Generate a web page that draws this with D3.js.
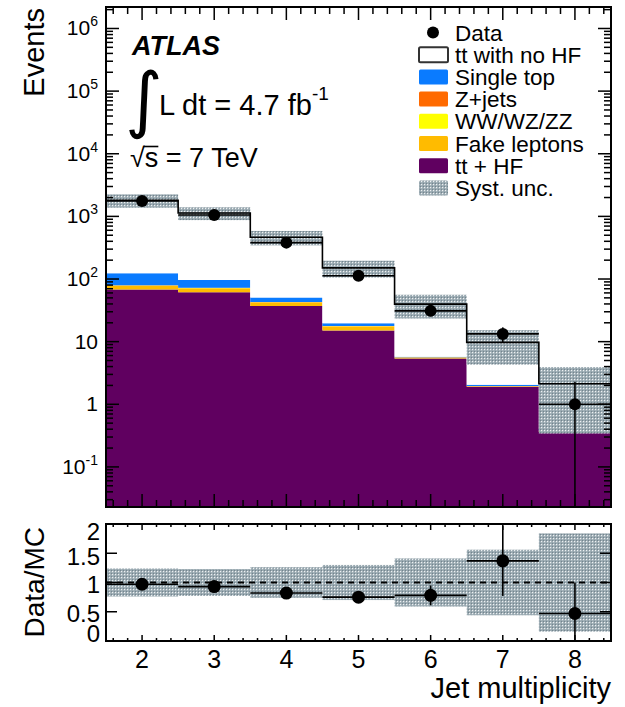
<!DOCTYPE html>
<html lang="en">
<head>
  <meta charset="UTF-8">
  <title>Jet multiplicity</title>
  <script src="https://cdn.jsdelivr.net/npm/d3@7"></script>
  <style>
    body { margin: 0; background: #fff; }
    text { font-family: 'Liberation Sans', Arial, Helvetica, sans-serif; fill: #000; }
  </style>
</head>
<body>
<script>
  // bins
  const jets = [2, 3, 4, 5, 6, 7, 8]

  // data
  const dataEvents = [1760, 1054, 381, 113, 31, 13.3, 1.0]
  const dataErr = [42, 32, 20, 10.6, 5.6, 3.6, 1.3]

  // stacked MC, bottom -> top
  const ttHF = [68, 61.5, 37, 15, 5.4, 1.9, 0.36]
  const fakeLeptons = [10, 9.5, 5, 2.3, 0.15, 0.03, 0.01]
  const diboson = [0.8, 0.7, 0.5, 0.25, 0.03, 0.01, 0.003]
  const zJets = [0.6, 0.6, 0.5, 0.25, 0.05, 0.01, 0.01]
  const singleTop = [44, 24, 7.5, 1.9, 0.1, 0.1, 0.02]
  const ttNoHF = [1690, 1036, 414, 131, 34, 7.7, 1.73]

  // relative syst. uncertainty
  const systUnc = [0.24, 0.23, 0.26, 0.30, 0.41, 0.56, 0.84]

  // ratio panel
  const ratio = [0.97, 0.93, 0.82, 0.75, 0.78, 1.37, 0.47]
  const ratioErr = [0.02, 0.03, 0.04, 0.07, 0.17, 0.6, 0.53]

  // tick labels
  const yTickValues = [0.1, 1, 10, 100, 1e3, 1e4, 1e5, 1e6]
  const ratioTickValues = [0, 0.5, 1, 1.5, 2]
  const ratioTickLabels = ['0', '0.5', '1', '1.5', '2']

  const legendNames = ['Data', 'tt with no HF', 'Single top', 'Z+jets', 'WW/WZ/ZZ', 'Fake leptons', 'tt + HF', 'Syst. unc.']

  const width = 625
  const height = 707
  const left = 106, right = 611
  const top1 = 7, bottom1 = 507
  const top2 = 524, bottom2 = 641

  const colors = {
    ttHF: '#600060',
    fake: '#ffbb00',
    diboson: '#ffff00',
    zjets: '#ff6a00',
    single: '#0a7bff',
    ttNoHF: '#ffffff'
  }

  const layers = [
    { key: 'ttHF', values: ttHF },
    { key: 'fake', values: fakeLeptons },
    { key: 'diboson', values: diboson },
    { key: 'zjets', values: zJets },
    { key: 'single', values: singleTop },
    { key: 'ttNoHF', values: ttNoHF }
  ]

  const svg = d3.select('body').append('svg').attr('width', width).attr('height', height)

  const x = d3.scaleLinear().domain([1.5, 8.5]).range([left, right])
  const y = d3.scaleLog().domain([Math.pow(10, -1.64), Math.pow(10, 6.343)]).range([bottom1, top1]).clamp(true)
  const yr = d3.scaleLinear().domain([0, 2]).range([bottom2, top2]).clamp(true)

  // hatch pattern for syst. unc.
  const defs = svg.append('defs')
  const pat = defs.append('pattern').attr('id', 'hatch')
    .attr('width', 3).attr('height', 3).attr('patternUnits', 'userSpaceOnUse')
  pat.append('rect').attr('width', 3).attr('height', 3).attr('fill', '#98a8b0')
  pat.append('rect').attr('x', 1).attr('y', 1).attr('width', 1.2).attr('height', 1.2).attr('fill', '#eef1f2')
  pat.append('rect').attr('x', 0).attr('y', 0).attr('width', 1).attr('height', 1).attr('fill', '#74858e')

  defs.append('clipPath').attr('id', 'clipTop').append('rect')
    .attr('x', left).attr('y', top1).attr('width', right - left).attr('height', bottom1 - top1)
  defs.append('clipPath').attr('id', 'clipRatio').append('rect')
    .attr('x', left).attr('y', top2).attr('width', right - left).attr('height', bottom2 - top2)

  // ---- ticks as small filled rects, drawn first so the frames sit on them ----
  const logMinor = [], logMajor = []
  for (let e = -2; e <= 6; e++) {
    for (let m = 1; m <= 9; m++) {
      const v = m * Math.pow(10, e)
      if (v < y.domain()[0] || v > y.domain()[1]) continue
      if (m === 1) logMajor.push(v)
      else logMinor.push(v)
    }
  }
  const xMinor = d3.range(1.6, 8.45, 0.2).filter(v => Math.abs(v - Math.round(v)) > 0.05)

  const tickLayer = svg.append('g').attr('fill', '#000')
  function yTicks(vals, scale, at, len) {
    tickLayer.append('g').selectAll('rect').data(vals).join('rect')
      .attr('x', len > 0 ? at : at + len).attr('width', Math.abs(len))
      .attr('y', v => scale(v) - 0.75).attr('height', 1.5)
  }
  function xTicks(vals, at, len) {
    tickLayer.append('g').selectAll('rect').data(vals).join('rect')
      .attr('y', len > 0 ? at : at + len).attr('height', Math.abs(len))
      .attr('x', v => x(v) - 0.75).attr('width', 1.5)
  }

  // stacked histogram as step areas
  const stackG = svg.append('g').attr('clip-path', 'url(#clipTop)')
  const cum = jets.map(() => 0)
  const stepArea = d3.area().x(d => d[0]).y0(d => d[1]).y1(d => d[2])
  layers.forEach(layer => {
    const pts = []
    jets.forEach((j, i) => {
      const lo = cum[i]
      const hi = cum[i] + layer.values[i]
      cum[i] = hi
      const y0 = lo > 0 ? y(lo) : bottom1 + 2
      pts.push([x(j - 0.5), y0, y(hi)])
      pts.push([x(j + 0.5), y0, y(hi)])
    })
    stackG.append('path').attr('d', stepArea(pts)).attr('fill', colors[layer.key])
  })
  const mcTotal = cum.slice()

  // syst band
  stackG.append('g').attr('fill', 'url(#hatch)')
    .selectAll('rect').data(jets).join('rect')
    .attr('x', j => x(j - 0.5))
    .attr('width', j => x(j + 0.5) - x(j - 0.5))
    .attr('y', (j, i) => y(mcTotal[i] * (1 + systUnc[i])))
    .attr('height', (j, i) => y(mcTotal[i] * (1 - systUnc[i])) - y(mcTotal[i] * (1 + systUnc[i])))

  // MC outline
  const stepPts = []
  jets.forEach((j, i) => {
    stepPts.push([x(j - 0.5), y(mcTotal[i])])
    stepPts.push([x(j + 0.5), y(mcTotal[i])])
  })
  stackG.append('path')
    .attr('d', d3.line()(stepPts))
    .attr('fill', 'none').attr('stroke', '#000').attr('stroke-width', 1.6)

  // data points
  const dataG = svg.append('g').attr('clip-path', 'url(#clipTop)')
  dataG.selectAll('line.h').data(jets).join('line').attr('class', 'h')
    .attr('x1', j => x(j - 0.5)).attr('x2', j => x(j + 0.5))
    .attr('y1', (j, i) => y(dataEvents[i])).attr('y2', (j, i) => y(dataEvents[i]))
    .attr('stroke', '#000').attr('stroke-width', 1.6)
  dataG.selectAll('line.v').data(jets).join('line').attr('class', 'v')
    .attr('x1', j => x(j)).attr('x2', j => x(j))
    .attr('y1', (j, i) => y(dataEvents[i] + dataErr[i]))
    .attr('y2', (j, i) => dataEvents[i] - dataErr[i] > 0 ? y(dataEvents[i] - dataErr[i]) : bottom1)
    .attr('stroke', '#000').attr('stroke-width', 1.6)
  dataG.selectAll('circle').data(jets).join('circle')
    .attr('cx', j => x(j)).attr('cy', (j, i) => y(dataEvents[i])).attr('r', 6)
    .attr('fill', '#000')

  // y labels top panel
  const yLab = svg.append('g')
  yTickValues.forEach(v => {
    const e = Math.round(Math.log10(v))
    const t = yLab.append('text')
      .attr('x', 98).attr('y', y(v) + 7)
      .attr('text-anchor', 'end')
      .style('font-size', '21px')
    if (e === 0) t.text('1')
    else if (e === 1) t.text('10')
    else {
      t.append('tspan').text('10')
      t.append('tspan').text(e).attr('dy', -9).style('font-size', '14px')
    }
  })

  // ---- ratio panel ----
  const ratioG = svg.append('g').attr('clip-path', 'url(#clipRatio)')
  ratioG.append('g').attr('fill', 'url(#hatch)')
    .selectAll('rect').data(jets).join('rect')
    .attr('x', j => x(j - 0.5))
    .attr('width', j => x(j + 0.5) - x(j - 0.5))
    .attr('y', (j, i) => yr(1 + systUnc[i]))
    .attr('height', (j, i) => yr(1 - systUnc[i]) - yr(1 + systUnc[i]))

  ratioG.append('line')
    .attr('x1', left).attr('x2', right).attr('y1', yr(1)).attr('y2', yr(1))
    .attr('stroke', '#000').attr('stroke-width', 2).attr('stroke-dasharray', '6,5')

  ratioG.selectAll('line.h').data(jets).join('line').attr('class', 'h')
    .attr('x1', j => x(j - 0.5)).attr('x2', j => x(j + 0.5))
    .attr('y1', (j, i) => yr(ratio[i])).attr('y2', (j, i) => yr(ratio[i]))
    .attr('stroke', '#000').attr('stroke-width', 1.6)
  ratioG.selectAll('line.v').data(jets).join('line').attr('class', 'v')
    .attr('x1', j => x(j)).attr('x2', j => x(j))
    .attr('y1', (j, i) => yr(ratio[i] + ratioErr[i]))
    .attr('y2', (j, i) => yr(ratio[i] - ratioErr[i]))
    .attr('stroke', '#000').attr('stroke-width', 1.6)
  ratioG.selectAll('circle').data(jets).join('circle')
    .attr('cx', j => x(j)).attr('cy', (j, i) => yr(ratio[i])).attr('r', 6.5)
    .attr('fill', '#000')

  // ratio y labels (end labels sit inside the pad like the original)
  const ratioShift = [1, 10, 10, 12, 16]
  svg.append('g').selectAll('text').data(ratioTickValues).join('text')
    .attr('x', 100)
    .attr('y', (v, i) => yr(v) + ratioShift[i])
    .attr('text-anchor', 'end')
    .style('font-size', '24px')
    .text((v, i) => ratioTickLabels[i])

  // x labels
  svg.append('g').selectAll('text').data(jets).join('text')
    .attr('x', j => x(j)).attr('y', 668)
    .attr('text-anchor', 'middle')
    .style('font-size', '25px')
    .text(j => j)

  // ticks on top of the fills
  const tickLayer2 = tickLayer.raise()
  yTicks(logMajor, y, left, 13)
  yTicks(logMinor, y, left, 7)
  yTicks(logMajor, y, right, -13)
  yTicks(logMinor, y, right, -7)
  xTicks(jets, bottom1, -13)
  xTicks(xMinor, bottom1, -7)
  xTicks(jets, top1, 13)
  xTicks(xMinor, top1, 7)
  yTicks(ratioTickValues, yr, left, 11)
  yTicks(ratioTickValues, yr, right, -11)
  xTicks(jets, bottom2, -6)
  xTicks(xMinor, bottom2, -3)
  xTicks(jets, top2, 6)
  xTicks(xMinor, top2, 3)

  // frames
  svg.append('rect').attr('x', left).attr('y', top1).attr('width', right - left).attr('height', bottom1 - top1)
    .attr('fill', 'none').attr('stroke', '#000').attr('stroke-width', 2)
  svg.append('rect').attr('x', left).attr('y', top2).attr('width', right - left).attr('height', bottom2 - top2)
    .attr('fill', 'none').attr('stroke', '#000').attr('stroke-width', 2)

  // axis titles
  svg.append('text')
    .attr('transform', `translate(44,${top1 + 1}) rotate(-90)`)
    .attr('text-anchor', 'end')
    .style('font-size', '29px')
    .text('Events')
  svg.append('text')
    .attr('transform', `translate(44,${top2 + 3}) rotate(-90)`)
    .attr('text-anchor', 'end')
    .style('font-size', '28px')
    .text('Data/MC')
  svg.append('text')
    .attr('x', right).attr('y', 698)
    .attr('text-anchor', 'end')
    .style('font-size', '29px')
    .text('Jet multiplicity')

  // ATLAS label
  svg.append('text')
    .attr('x', 132).attr('y', 55)
    .style('font-size', '27px').style('font-weight', 'bold').style('font-style', 'italic')
    .text('ATLAS')
  svg.append('text')
    .attr('x', 125).attr('y', 124)
    .style('font-family', "'DejaVu Sans', sans-serif")
    .style('font-size', '72px')
    .text('∫')
  const lumi = svg.append('text')
    .attr('x', 159).attr('y', 115)
    .style('font-size', '29px')
  lumi.append('tspan').text('L dt = 4.7 fb')
  lumi.append('tspan').text('-1').attr('dy', -15).style('font-size', '19px')

  const sqrtS = svg.append('text')
    .attr('x', 130).attr('y', 167)
    .style('font-size', '27px')
  const rootSign = sqrtS.append('tspan').text('√')
  const sTxt = sqrtS.append('tspan').text('s')
  sqrtS.append('tspan').text(' = 7 TeV')
  // bar over the s
  const rootW = rootSign.node().getComputedTextLength()
  const sW = sTxt.node().getComputedTextLength()
  svg.append('line')
    .attr('x1', 130 + rootW - 1).attr('x2', 130 + rootW + sW)
    .attr('y1', 146.5).attr('y2', 146.5)
    .attr('stroke', '#000').attr('stroke-width', 1.6)

  // legend
  const legend = svg.append('g')
  const rowY = i => 32.5 + i * 22.2
  const legendFill = [null, colors.ttNoHF, colors.single, colors.zjets, colors.diboson, colors.fake, colors.ttHF, 'url(#hatch)']
  legendNames.forEach((name, i) => {
    const cy = rowY(i)
    if (i === 0) {
      legend.append('circle').attr('cx', 433).attr('cy', cy).attr('r', 6).attr('fill', '#000')
    } else {
      legend.append('rect')
        .attr('x', 419).attr('y', cy - 7.5).attr('width', 29).attr('height', 15).attr('rx', 1.5)
        .attr('fill', legendFill[i])
        .attr('stroke', i === 1 ? '#333' : 'none').attr('stroke-width', 2)
    }
    legend.append('text')
      .attr('x', 455).attr('y', cy + 8)
      .style('font-size', '22.5px')
      .text(name)
  })
</script>
</body>
</html>
